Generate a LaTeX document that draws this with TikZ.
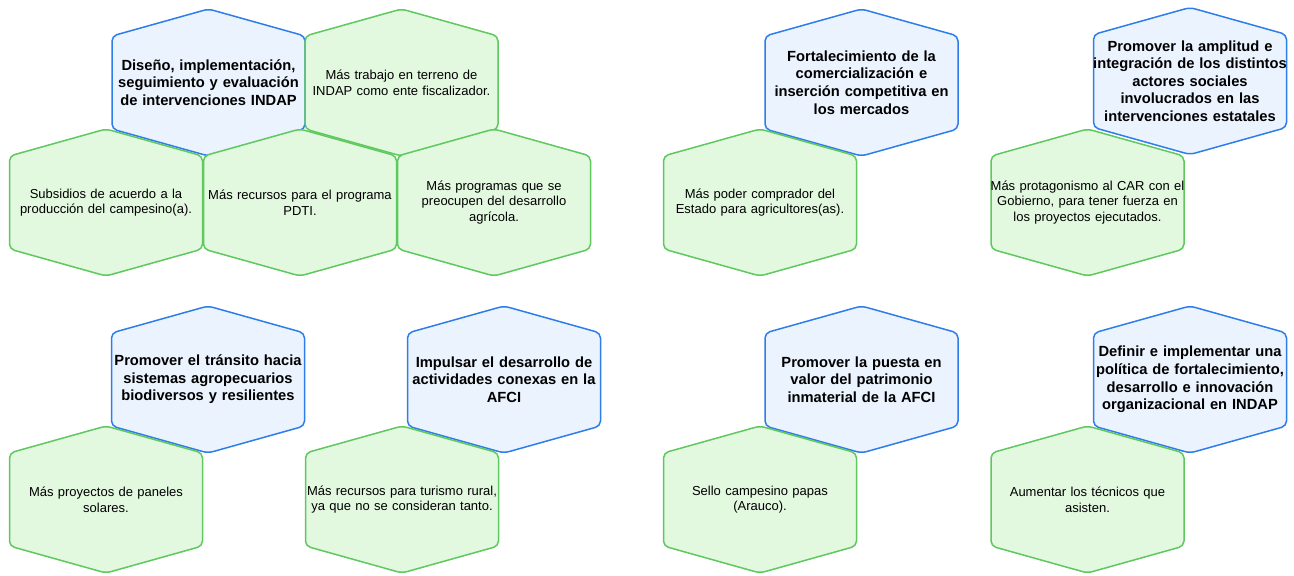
\documentclass[tikz,border=0pt]{standalone}
\usepackage{fontspec}
\setmainfont{Liberation Sans}
\usetikzlibrary{calc}
\usetikzlibrary{backgrounds}

\definecolor{objline}{RGB}{45,125,235}
\definecolor{objfill}{RGB}{235,243,254}
\definecolor{propline}{RGB}{95,200,95}
\definecolor{propfill}{RGB}{226,248,223}

% hexagon around a cell centre (pointy top)
\newcommand{\hexcell}{(0,-73.5) -- (96.5,-46.5) -- (96.5,46.5) -- (0,73.5) -- (-96.5,46.5) -- (-96.5,-46.5) -- cycle}

\begin{document}
\begin{tikzpicture}[
    x=1pt,y=-1pt,
% Objective style
    obj/.style={text width=240pt,align=center,inner sep=0pt,
		font={\bfseries\fontsize{14.7pt}{17.6pt}\selectfont}},
% Proposal style
    prop/.style={text width=240pt,align=center,inner sep=0pt,
		font={\fontsize{13pt}{15.6pt}\selectfont}},
    objcell/.style={draw=objline,fill=objfill,line width=1.5pt,rounded corners=5pt},
    propcell/.style={draw=propline,fill=propfill,line width=1.5pt,rounded corners=5pt}
    ]

  \useasboundingbox (0,0) rectangle (1294,576);

  % top row
  \node (obj1) [obj] at (208.5,82.5) {Diseño, implementación,\\ seguimiento y evaluación\\ de intervenciones INDAP};
  \node (prop1) [prop] at (401.5,82.5) {Más trabajo en terreno de\\ INDAP como ente fiscalizador.};
  \node (prop2) [prop] at (106,202.5) {Subsidios de acuerdo a la\\ producción del campesino(a).};
  \node (prop3) [prop] at (300,202.5) {Más recursos para el programa\\ PDTI.};
  \node (prop4) [prop] at (494,202.5) {Más programas que se\\ preocupen del desarrollo\\ agrícola.};

  \node (obj2) [obj] at (861.5,82.5) {Fortalecimiento de la\\ comercialización e\\ inserción competitiva en\\ los mercados};
  \node (prop5) [prop] at (760,202.5) {Más poder comprador del\\ Estado para agricultores(as).};

  \node (obj3) [obj] at (1190,81) {Promover la amplitud e\\ integración de los distintos\\ actores sociales\\ involucrados en las\\ intervenciones estatales};
  \node (prop6) [prop] at (1087.5,202.5) {Más protagonismo al CAR con el\\ Gobierno, para tener fuerza en\\ los proyectos ejecutados.};

  % bottom row
  \node (obj4) [obj] at (208,379.5) {Promover el tránsito hacia\\ sistemas agropecuarios\\ biodiversos y resilientes};
  \node (prop7) [prop] at (106,499.5) {Más proyectos de paneles\\ solares.};

  \node (obj5) [obj] at (504,379.5) {Impulsar el desarrollo de\\ actividades conexas en la\\ AFCI};
  \node (prop8) [prop] at (402,499.5) {Más recursos para turismo rural,\\ ya que no se consideran tanto.};

  \node (obj6) [obj] at (861.5,379.5) {Promover la puesta en\\ valor del patrimonio\\ inmaterial de la AFCI};
  \node (prop9) [prop] at (760,499.5) {Sello campesino papas\\ (Arauco).};

  \node (obj7) [obj] at (1190,379.5) {Definir e implementar una\\ política de fortalecimiento,\\ desarrollo e innovación\\ organizacional en INDAP};
  \node (prop10) [prop] at (1087.5,499.5) {Aumentar los técnicos que\\ asisten.};

\begin{pgfonlayer}{background}
  \foreach \i in {1,...,7}
    \draw[objcell,shift={(obj\i.center)}] \hexcell;
  \foreach \i in {1,...,10}
    \draw[propcell,shift={(prop\i.center)}] \hexcell;
\end{pgfonlayer}

\end{tikzpicture}
\end{document}
